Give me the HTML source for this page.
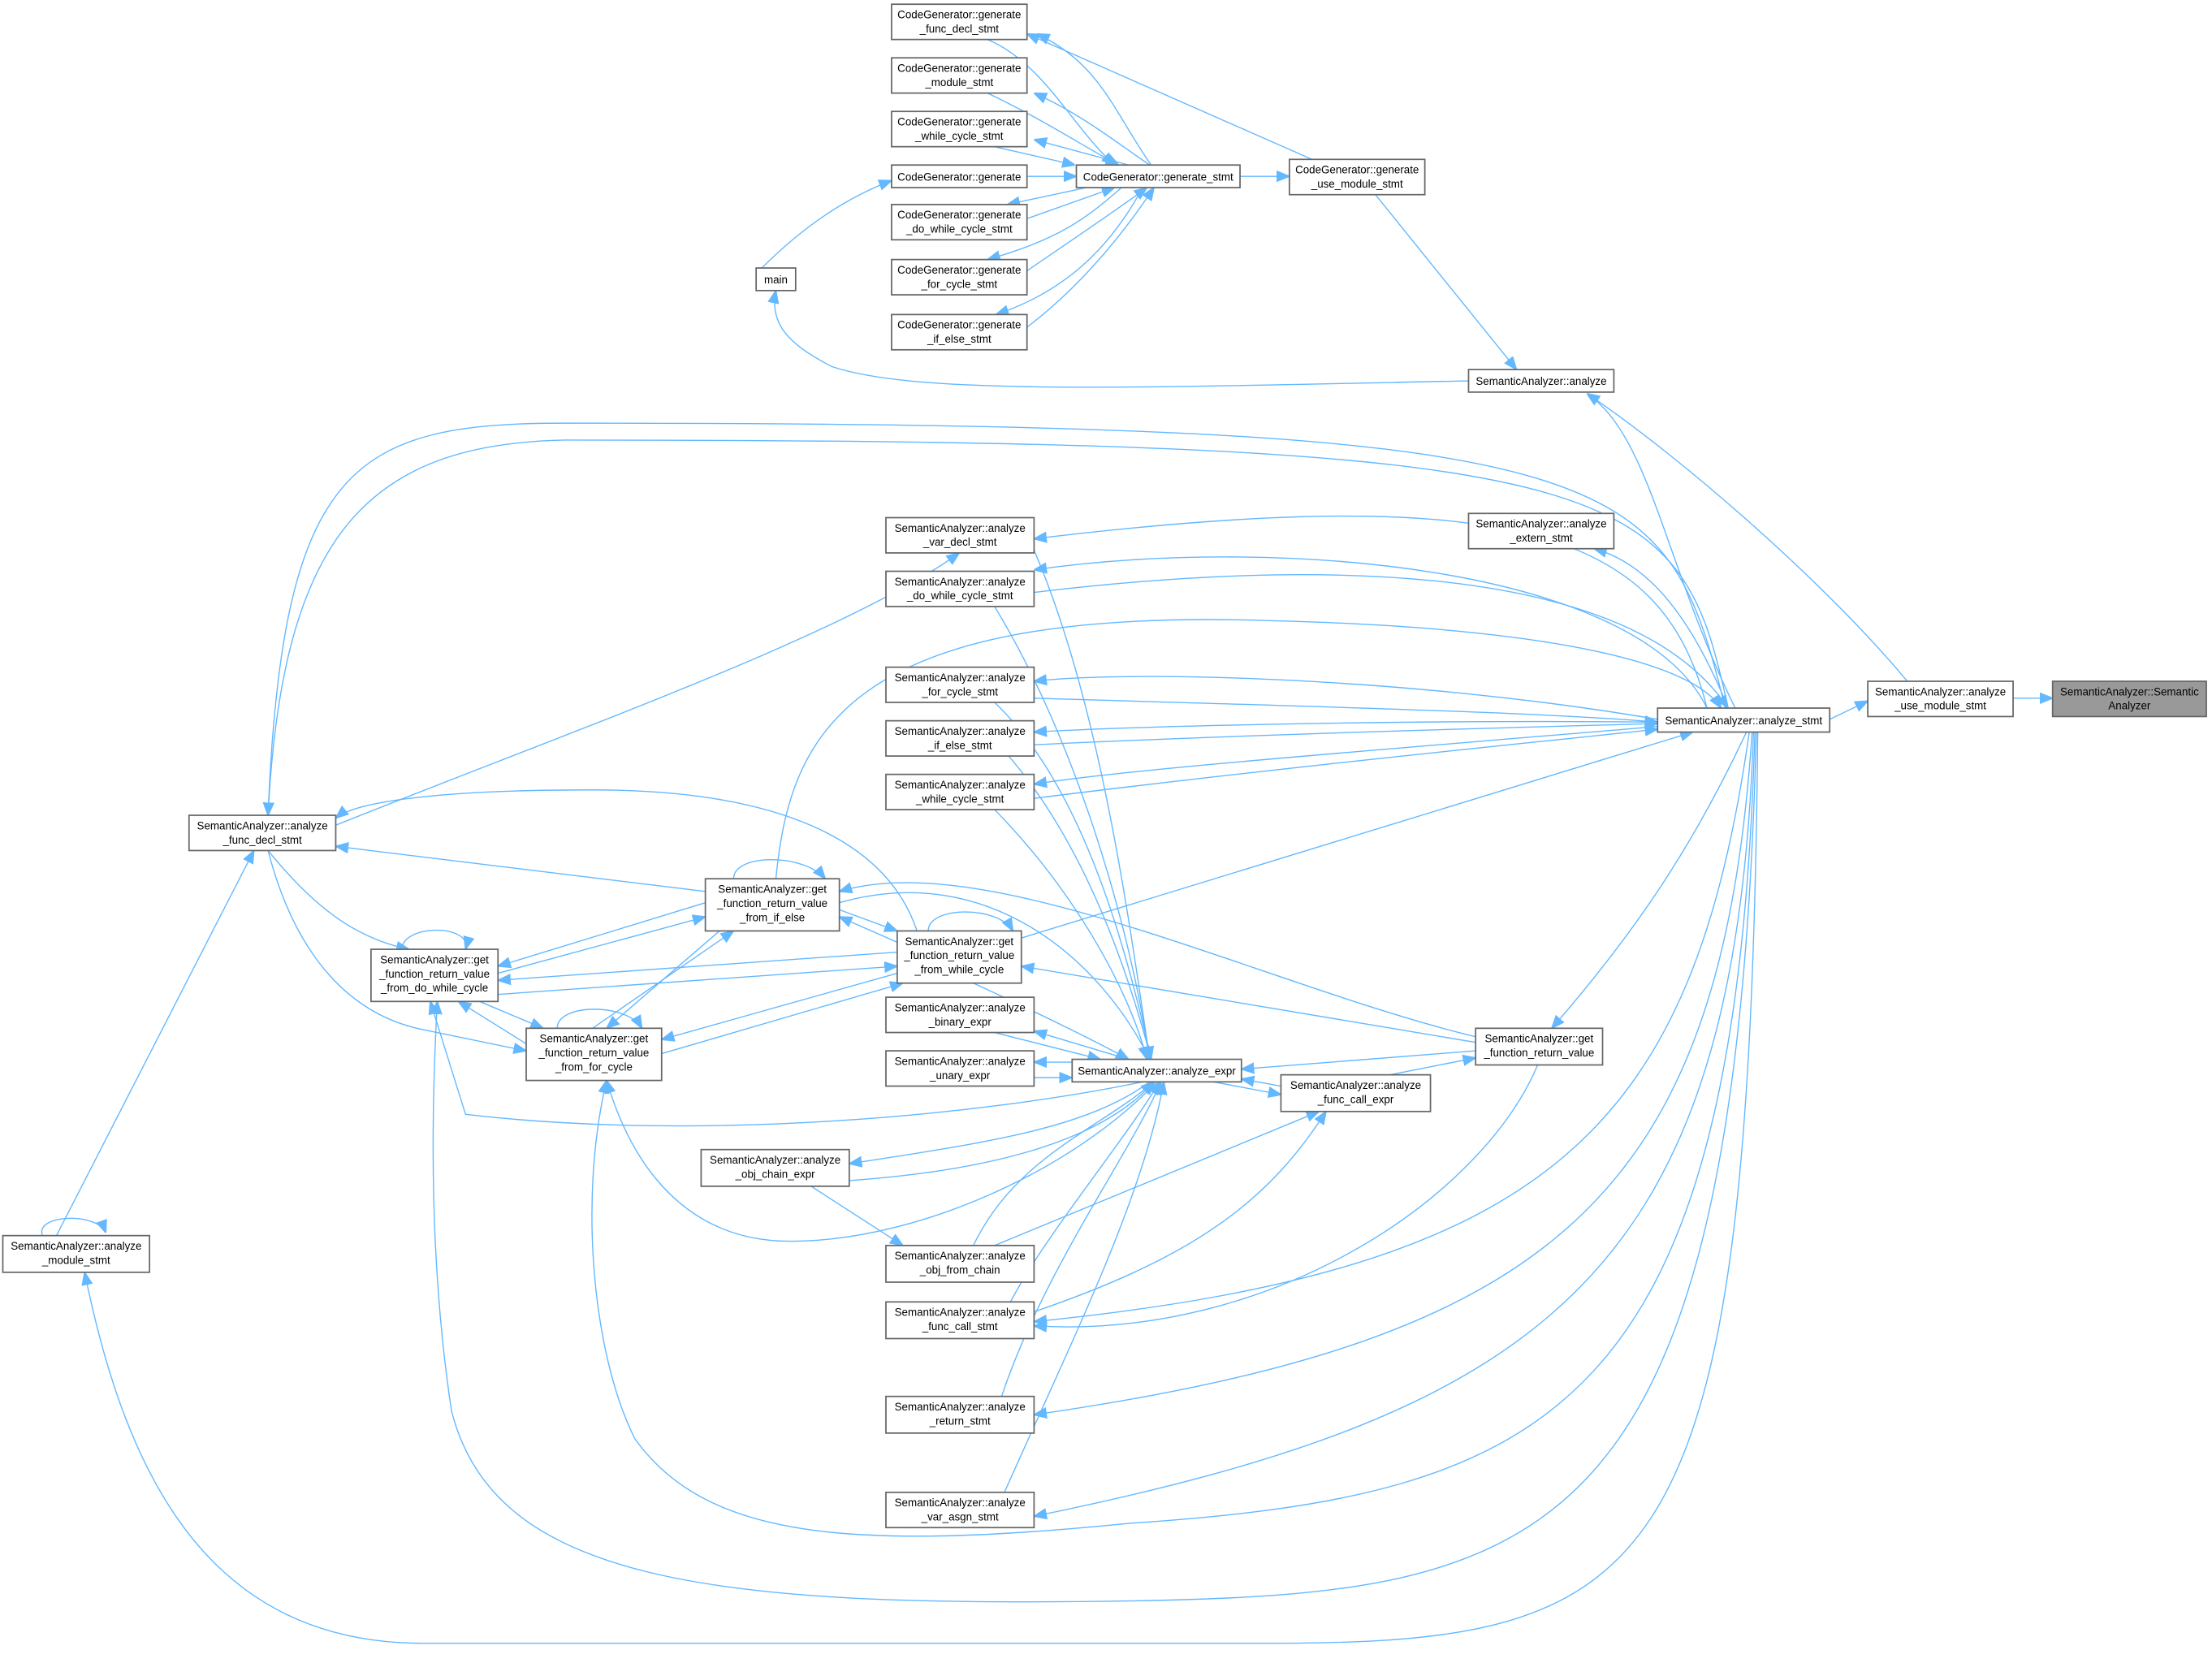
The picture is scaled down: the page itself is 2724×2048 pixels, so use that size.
<!DOCTYPE html>
<html><head><meta charset="utf-8"><style>
html,body{margin:0;padding:0;background:#fff;}
svg{display:block;}
text{font-family:"Liberation Sans",sans-serif;font-size:7.7px;fill:#000;text-anchor:middle;}
.n{fill:#fff;stroke:#666;stroke-width:1;}
.g{fill:#999;stroke:#666;stroke-width:1;}
.e{fill:none;stroke:#63b8ff;stroke-width:0.8;}
</style></head><body>
<svg width="2724" height="2048" viewBox="0 0 1568 1179" preserveAspectRatio="none" xmlns="http://www.w3.org/2000/svg">
<defs><marker id="a" viewBox="0 0 10 10" refX="10" refY="5" markerWidth="9" markerHeight="9" markerUnits="userSpaceOnUse" orient="auto"><path d="M0,1 L10,5 L0,9 z" fill="#63b8ff" stroke="#63b8ff"/></marker></defs>
<g marker-end="url(#a)">
<path class="e" d="M1427,495 L1455,495"/>
<path class="e" d="M1297,510 L1324,497"/>
<path class="e" d="M1352,483 C1300,420 1200,330 1125,279"/>
<path class="e" d="M1230,502 C1180,400 1170,310 1125,279"/>
<path class="e" d="M975,138 L1075,262"/>
<path class="e" d="M1041,270 C800,275 650,280 590,260 C560,245 545,230 550,206"/>
<path class="e" d="M540,190 C570,160 600,140 632,128"/>
<path class="e" d="M728,125 L763,125"/>
<path class="e" d="M879,125 L914,125"/>
<path class="e" d="M930,113 L728,24"/>
<path class="e" d="M700,28 C740,45 760,90 790,117"/>
<path class="e" d="M816,117 C790,80 780,45 735,24"/>
<path class="e" d="M700,66 C740,85 770,105 793,117"/>
<path class="e" d="M815,117 C790,100 765,80 733,66"/>
<path class="e" d="M705,104 L762,117"/>
<path class="e" d="M800,117 L733,99"/>
<path class="e" d="M770,133 L714,145"/>
<path class="e" d="M728,155 L790,133"/>
<path class="e" d="M795,133 C770,155 750,170 700,184"/>
<path class="e" d="M728,192 C760,170 790,150 813,133"/>
<path class="e" d="M810,133 C790,170 760,205 706,223"/>
<path class="e" d="M728,232 C770,200 800,160 818,133"/>
<path class="e" d="M1210,502 C1180,380 1080,340 733,382"/>
<path class="e" d="M1210,502 C1160,400 900,380 733,404"/>
<path class="e" d="M733,420 C900,400 1150,390 1225,502"/>
<path class="e" d="M1175,510 C1000,480 800,475 733,483"/>
<path class="e" d="M733,495 C900,500 1100,505 1175,512"/>
<path class="e" d="M1175,512 C1000,510 800,515 733,519"/>
<path class="e" d="M733,528 C900,520 1100,515 1175,513"/>
<path class="e" d="M1175,515 C1000,530 800,545 733,556"/>
<path class="e" d="M733,566 C900,545 1100,525 1175,517"/>
<path class="e" d="M1225,502 C1200,440 1170,400 1130,389"/>
<path class="e" d="M1223,502 C1180,330 1160,300 400,300 C250,300 200,330 190,578"/>
<path class="e" d="M1225,502 C1190,340 1160,312 400,312 C260,315 200,380 190,578"/>
<path class="e" d="M724,665 L1200,519"/>
<path class="e" d="M550,623 C560,520 600,430 900,440 C1100,445 1200,470 1220,502"/>
<path class="e" d="M1238,519 C1200,600 1160,660 1100,729"/>
<path class="e" d="M1240,519 C1200,800 1100,900 733,937"/>
<path class="e" d="M1242,519 C1220,850 1100,950 733,1003"/>
<path class="e" d="M1243,519 C1230,900 1100,1000 733,1075"/>
<path class="e" d="M1244,519 C1230,1000 1100,1060 800,1080 C600,1100 500,1090 450,1020 C420,960 410,850 430,766"/>
<path class="e" d="M1245,519 C1230,1100 1100,1130 800,1135 C500,1140 350,1120 320,1000 C305,900 305,800 310,710"/>
<path class="e" d="M1246,519 C1240,1120 1180,1165 900,1165 L300,1165 C150,1165 90,1050 60,902"/>
<path class="e" d="M238,585 C400,520 600,450 680,392"/>
<path class="e" d="M500,632 L238,600"/>
<path class="e" d="M650,660 C630,600 560,560 420,560 C300,560 250,570 238,580"/>
<path class="e" d="M190,603 C220,640 250,665 290,673"/>
<path class="e" d="M190,603 C210,680 250,720 300,730 L373,745"/>
<path class="e" d="M40,876 L180,603"/>
<path class="e" d="M30,876 C25,860 70,860 75,874"/>
<path class="e" d="M353,690 L500,650"/>
<path class="e" d="M500,640 L353,685"/>
<path class="e" d="M636,675 L353,695"/>
<path class="e" d="M353,705 L636,685"/>
<path class="e" d="M595,645 L636,660"/>
<path class="e" d="M636,668 L595,650"/>
<path class="e" d="M469,747 L640,697"/>
<path class="e" d="M636,690 L469,737"/>
<path class="e" d="M420,729 L520,660"/>
<path class="e" d="M510,660 L430,729"/>
<path class="e" d="M373,740 L325,710"/>
<path class="e" d="M340,710 L385,729"/>
<path class="e" d="M520,623 C520,605 570,605 585,623"/>
<path class="e" d="M658,660 C658,642 708,642 718,660"/>
<path class="e" d="M285,673 C285,655 335,655 330,673"/>
<path class="e" d="M395,729 C395,711 445,711 455,729"/>
<path class="e" d="M1046,735 C900,700 700,600 595,632"/>
<path class="e" d="M1046,739 L724,685"/>
<path class="e" d="M733,390 C780,500 800,650 815,751"/>
<path class="e" d="M705,430 C760,520 800,650 815,751"/>
<path class="e" d="M705,498 C770,560 800,680 816,751"/>
<path class="e" d="M715,536 C770,600 800,690 816,751"/>
<path class="e" d="M705,574 C760,630 800,700 813,751"/>
<path class="e" d="M595,640 C700,610 780,680 815,751"/>
<path class="e" d="M690,697 C740,720 780,740 800,751"/>
<path class="e" d="M800,751 L733,731"/>
<path class="e" d="M705,732 L780,751"/>
<path class="e" d="M760,753 L733,753"/>
<path class="e" d="M733,764 L760,764"/>
<path class="e" d="M810,767 C700,790 500,810 330,790 L305,710"/>
<path class="e" d="M815,767 C770,800 700,810 602,825"/>
<path class="e" d="M602,837 C700,830 780,810 818,767"/>
<path class="e" d="M690,883 C720,820 780,800 818,767"/>
<path class="e" d="M705,949 C720,900 790,820 822,767"/>
<path class="e" d="M710,990 C740,900 800,820 823,767"/>
<path class="e" d="M712,1058 C760,950 810,850 825,767"/>
<path class="e" d="M820,767 C760,830 650,880 560,880 C470,880 440,800 430,766"/>
<path class="e" d="M1046,745 L880,758"/>
<path class="e" d="M908,770 L880,765"/>
<path class="e" d="M860,767 L908,776"/>
<path class="e" d="M985,762 L1046,750"/>
<path class="e" d="M575,841 L640,883"/>
<path class="e" d="M705,883 L935,788"/>
<path class="e" d="M733,930 C850,890 900,850 940,788"/>
<path class="e" d="M1090,755 C1050,850 900,950 733,940"/>
</g>
<rect class="g" x="1455" y="483" width="109" height="25"/><text x="1509.5" y="493">SemanticAnalyzer::Semantic</text><text x="1509.5" y="503">Analyzer</text>
<rect class="n" x="1324" y="483" width="103" height="25"/><text x="1375.5" y="493">SemanticAnalyzer::analyze</text><text x="1375.5" y="503">_use_module_stmt</text>
<rect class="n" x="1175" y="502" width="122" height="17"/><text x="1236" y="513.5">SemanticAnalyzer::analyze_stmt</text>
<rect class="n" x="1041" y="262" width="103" height="16"/><text x="1092.5" y="273">SemanticAnalyzer::analyze</text>
<rect class="n" x="914" y="113" width="96" height="25"/><text x="962" y="123">CodeGenerator::generate</text><text x="962" y="133">_use_module_stmt</text>
<rect class="n" x="763" y="117" width="116" height="16"/><text x="821" y="128">CodeGenerator::generate_stmt</text>
<rect class="n" x="632" y="3" width="96" height="25"/><text x="680" y="13">CodeGenerator::generate</text><text x="680" y="23">_func_decl_stmt</text>
<rect class="n" x="632" y="41" width="96" height="25"/><text x="680" y="51">CodeGenerator::generate</text><text x="680" y="61">_module_stmt</text>
<rect class="n" x="632" y="79" width="96" height="25"/><text x="680" y="89">CodeGenerator::generate</text><text x="680" y="99">_while_cycle_stmt</text>
<rect class="n" x="632" y="117" width="96" height="16"/><text x="680" y="128">CodeGenerator::generate</text>
<rect class="n" x="632" y="145" width="96" height="25"/><text x="680" y="155">CodeGenerator::generate</text><text x="680" y="165">_do_while_cycle_stmt</text>
<rect class="n" x="632" y="184" width="96" height="25"/><text x="680" y="194">CodeGenerator::generate</text><text x="680" y="204">_for_cycle_stmt</text>
<rect class="n" x="632" y="223" width="96" height="25"/><text x="680" y="233">CodeGenerator::generate</text><text x="680" y="243">_if_else_stmt</text>
<rect class="n" x="536" y="190" width="28" height="16"/><text x="550" y="201">main</text>
<rect class="n" x="1041" y="364" width="103" height="25"/><text x="1092.5" y="374">SemanticAnalyzer::analyze</text><text x="1092.5" y="384">_extern_stmt</text>
<rect class="n" x="628" y="367" width="105" height="25"/><text x="680.5" y="377">SemanticAnalyzer::analyze</text><text x="680.5" y="387">_var_decl_stmt</text>
<rect class="n" x="628" y="405" width="105" height="25"/><text x="680.5" y="415">SemanticAnalyzer::analyze</text><text x="680.5" y="425">_do_while_cycle_stmt</text>
<rect class="n" x="628" y="473" width="105" height="25"/><text x="680.5" y="483">SemanticAnalyzer::analyze</text><text x="680.5" y="493">_for_cycle_stmt</text>
<rect class="n" x="628" y="511" width="105" height="25"/><text x="680.5" y="521">SemanticAnalyzer::analyze</text><text x="680.5" y="531">_if_else_stmt</text>
<rect class="n" x="628" y="549" width="105" height="25"/><text x="680.5" y="559">SemanticAnalyzer::analyze</text><text x="680.5" y="569">_while_cycle_stmt</text>
<rect class="n" x="134" y="578" width="104" height="25"/><text x="186" y="588">SemanticAnalyzer::analyze</text><text x="186" y="598">_func_decl_stmt</text>
<rect class="n" x="500" y="623" width="95" height="37"/><text x="547.5" y="633">SemanticAnalyzer::get</text><text x="547.5" y="643">_function_return_value</text><text x="547.5" y="653">_from_if_else</text>
<rect class="n" x="636" y="660" width="88" height="37"/><text x="680" y="670">SemanticAnalyzer::get</text><text x="680" y="680">_function_return_value</text><text x="680" y="690">_from_while_cycle</text>
<rect class="n" x="263" y="673" width="90" height="37"/><text x="308" y="683">SemanticAnalyzer::get</text><text x="308" y="693">_function_return_value</text><text x="308" y="703">_from_do_while_cycle</text>
<rect class="n" x="373" y="729" width="96" height="37"/><text x="421" y="739">SemanticAnalyzer::get</text><text x="421" y="749">_function_return_value</text><text x="421" y="759">_from_for_cycle</text>
<rect class="n" x="628" y="707" width="105" height="25"/><text x="680.5" y="717">SemanticAnalyzer::analyze</text><text x="680.5" y="727">_binary_expr</text>
<rect class="n" x="628" y="745" width="105" height="25"/><text x="680.5" y="755">SemanticAnalyzer::analyze</text><text x="680.5" y="765">_unary_expr</text>
<rect class="n" x="760" y="751" width="120" height="16"/><text x="820" y="762">SemanticAnalyzer::analyze_expr</text>
<rect class="n" x="908" y="762" width="106" height="26"/><text x="961" y="772">SemanticAnalyzer::analyze</text><text x="961" y="782">_func_call_expr</text>
<rect class="n" x="1046" y="729" width="90" height="26"/><text x="1091" y="739">SemanticAnalyzer::get</text><text x="1091" y="749">_function_return_value</text>
<rect class="n" x="497" y="815" width="105" height="26"/><text x="549.5" y="825">SemanticAnalyzer::analyze</text><text x="549.5" y="835">_obj_chain_expr</text>
<rect class="n" x="628" y="883" width="105" height="26"/><text x="680.5" y="893">SemanticAnalyzer::analyze</text><text x="680.5" y="903">_obj_from_chain</text>
<rect class="n" x="628" y="923" width="105" height="26"/><text x="680.5" y="933">SemanticAnalyzer::analyze</text><text x="680.5" y="943">_func_call_stmt</text>
<rect class="n" x="628" y="990" width="105" height="26"/><text x="680.5" y="1000">SemanticAnalyzer::analyze</text><text x="680.5" y="1010">_return_stmt</text>
<rect class="n" x="628" y="1058" width="105" height="25"/><text x="680.5" y="1068">SemanticAnalyzer::analyze</text><text x="680.5" y="1078">_var_asgn_stmt</text>
<rect class="n" x="2" y="876" width="104" height="26"/><text x="54" y="886">SemanticAnalyzer::analyze</text><text x="54" y="896">_module_stmt</text>
</svg>
</body></html>
